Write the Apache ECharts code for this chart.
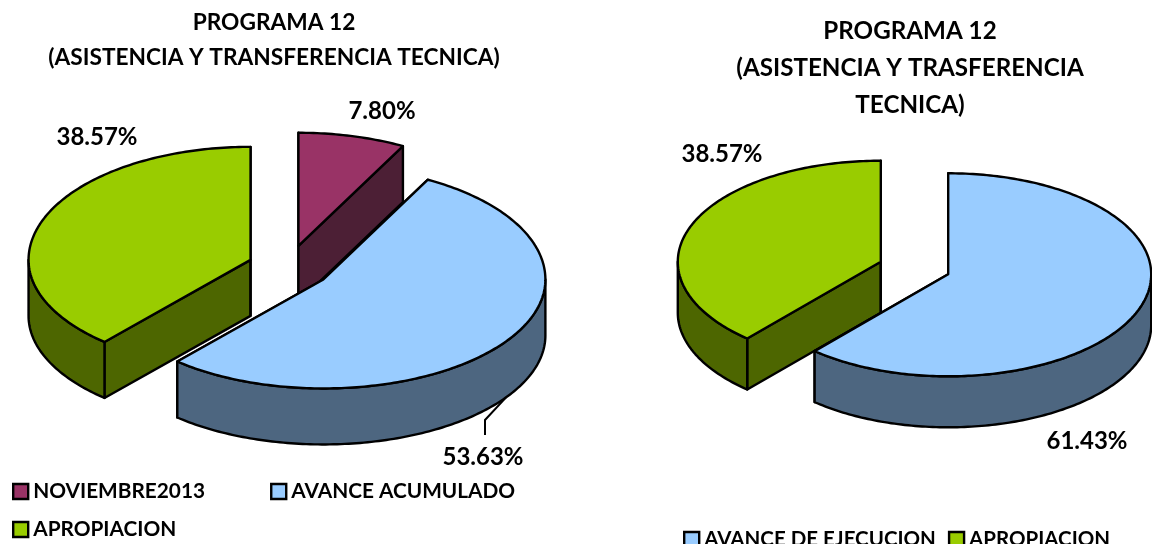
<!DOCTYPE html>
<html>
<head>
<meta charset="utf-8">
<style>
  html, body { margin: 0; padding: 0; background: #fff; }
  #chart { width: 1152px; height: 544px; }
</style>
<script src="https://cdn.jsdelivr.net/npm/echarts@6/dist/echarts.min.js"></script>
</head>
<body>
<div id="chart"></div>
<script>
// values, same order as the slices go round clockwise from the top
const leftNames = ['NOVIEMBRE2013', 'AVANCE ACUMULADO', 'APROPIACION']
const leftValues = [7.80, 53.63, 38.57]
const rightNames = ['AVANCE DE EJECUCION', 'APROPIACION']
const rightValues = [61.43, 38.57]

const FONT = 'Lato, "Open Sans", sans-serif'
const PURPLE = ['#993366', '#4c1f35']
const BLUE = ['#99ccff', '#4d6680']
const GREEN = ['#99cc00', '#4d6600']

// echarts has no 3d pie, so each slice is a custom series
// ryFront is smaller than ry because the original is drawn with a bit of perspective
const leftPie = { cx: 288, cy: 267, rx: 222, ry: 113, ryFront: 109, depth: 56 }
const rightPie = { cx: 914.5, cy: 268, rx: 203, ry: 101, ryFront: 102, depth: 51 }

const rad = (deg) => deg * Math.PI / 180

function rimPoint(p, apex, deg, drop) {
  const c = Math.cos(rad(deg))
  return [apex[0] + p.rx * Math.sin(rad(deg)), apex[1] - (c > 0 ? p.ry : p.ryFront) * c + drop]
}

function arcPoints(p, apex, from, to, drop) {
  const pts = []
  const steps = Math.max(2, Math.ceil(Math.abs(to - from)))
  for (let i = 0; i <= steps; i++) {
    pts.push(rimPoint(p, apex, from + (to - from) * i / steps, drop))
  }
  return pts
}

function polygon(points, fill) {
  return {
    type: 'polygon',
    shape: { points },
    style: { fill, stroke: '#000', lineWidth: 2.4, lineJoin: 'round' }
  }
}

function sliceSeries(pie, values, index, name, colors, explode, label) {
  const total = values.reduce((a, b) => a + b, 0)
  const start = values.slice(0, index).reduce((a, b) => a + b, 0) / total * 360
  const end = start + values[index] / total * 360
  const mid = (start + end) / 2
  return {
    type: 'custom',
    name,
    coordinateSystem: 'none',
    silent: true,
    animation: false,
    itemStyle: { color: colors[0] },
    data: [values[index]],
    renderItem: (params, api) => {
      const d = pie.depth
      const apex = [
        pie.cx + explode * Math.sin(rad(mid)),
        pie.cy - explode * pie.ry / pie.rx * Math.cos(rad(mid))
      ]
      const low = [apex[0], apex[1] + d]
      const children = []
      // cut faces, then the outer wall, then the top
      ;[start, end].forEach((deg) => {
        const a = rimPoint(pie, apex, deg, 0)
        children.push(polygon([apex, a, [a[0], a[1] + d], low], colors[1]))
      })
      const wallFrom = Math.max(start, 90)
      const wallTo = Math.min(end, 270)
      if (wallTo > wallFrom) {
        const top = arcPoints(pie, apex, wallFrom, wallTo, 0)
        const bottom = arcPoints(pie, apex, wallTo, wallFrom, d)
        children.push(polygon(top.concat(bottom), colors[1]))
      }
      children.push(polygon([apex].concat(arcPoints(pie, apex, start, end, 0)), colors[0]))
      if (label.leader) {
        const a = rimPoint(pie, apex, mid, d)
        children.push({
          type: 'polyline',
          shape: { points: [a, [label.x + 2, label.y - 37], [label.x + 2, label.y - 22]] },
          style: { fill: null, stroke: '#000', lineWidth: 2 }
        })
      }
      children.push({
        type: 'text',
        style: {
          x: label.x,
          y: label.y,
          text: api.value(0).toFixed(2) + '%',
          fill: '#000',
          font: 'bold 24px ' + FONT,
          align: 'center',
          verticalAlign: 'middle'
        }
      })
      return { type: 'group', children }
    }
  }
}

function legend(names, left, top, gap, size) {
  return {
    data: names.map((name) => ({ name, icon: 'rect' })),
    left,
    top,
    itemWidth: 15,
    itemHeight: 15,
    itemGap: gap,
    selectedMode: false,
    itemStyle: { borderColor: '#000', borderWidth: 2.4 },
    textStyle: { fontFamily: FONT, fontWeight: 'bold', fontSize: size, color: '#000' }
  }
}

function title(text, left, top, size, lineHeight) {
  return {
    text,
    left,
    top,
    textAlign: 'center',
    textStyle: { fontFamily: FONT, fontWeight: 'bold', fontSize: size, color: '#000', lineHeight }
  }
}

const chart = echarts.init(document.getElementById('chart'), null, { renderer: 'canvas' })
chart.setOption({
  backgroundColor: '#fff',
  animation: false,
  title: [
    title('PROGRAMA 12\n(ASISTENCIA Y TRANSFERENCIA TECNICA)', 269, 0, 22.7, 35),
    title('PROGRAMA 12\n(ASISTENCIA Y TRASFERENCIA\nTECNICA)', 905, 8, 24.2, 37)
  ],
  legend: [
    legend(leftNames.slice(0, 2), 7, 476, 65, 20.8),
    legend(leftNames.slice(2), 7, 514, 0, 20.8),
    legend(rightNames, 678, 524, 12, 20.5)
  ],
  series: [
    sliceSeries(leftPie, leftValues, 0, leftNames[0], PURPLE, 43, { x: 382, y: 111 }),
    sliceSeries(leftPie, leftValues, 2, leftNames[2], GREEN, 40, { x: 97, y: 137 }),
    sliceSeries(leftPie, leftValues, 1, leftNames[1], BLUE, 43, { x: 483, y: 457, leader: true }),
    sliceSeries(rightPie, rightValues, 1, rightNames[1], GREEN, 36, { x: 722, y: 154 }),
    sliceSeries(rightPie, rightValues, 0, rightNames[0], BLUE, 36, { x: 1087, y: 441 })
  ]
})
</script>
</body>
</html>
